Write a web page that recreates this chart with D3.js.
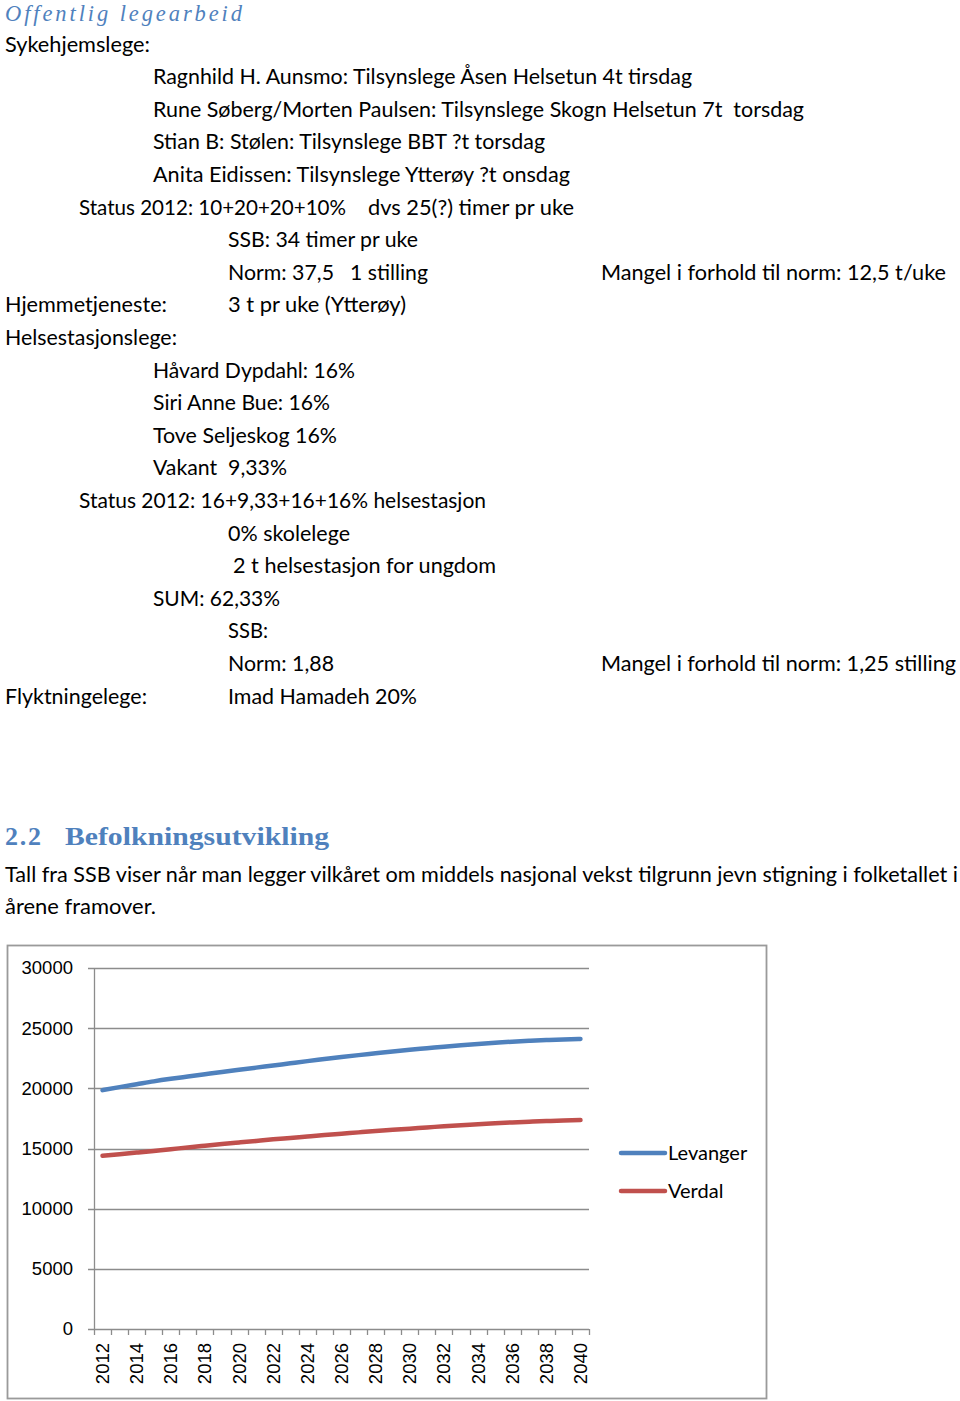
<!DOCTYPE html>
<html>
<head>
<meta charset="utf-8">
<script src="https://cdn.jsdelivr.net/npm/d3@7"></script>
<style>
    body { margin: 0; background: #fff; }
    svg text { white-space: pre; }
</style>
</head>
<body>
<div id="svganchor"></div>
<script>
// Chart data (SSB projection, 2012-2040)
const years = d3.range(2012, 2041);
const levanger = [
    19850, 20100, 20340, 20580, 20790, 20980, 21170, 21360, 21540, 21720,
    21900, 22080, 22260, 22430, 22600, 22760, 22910, 23060, 23200, 23330,
    23460, 23580, 23690, 23790, 23880, 23950, 24010, 24060, 24100
];
const verdal = [
    14390, 14520, 14660, 14800, 14940, 15090, 15230, 15370, 15500, 15630,
    15760, 15880, 16000, 16120, 16230, 16340, 16450, 16550, 16650, 16750,
    16850, 16940, 17020, 17100, 17170, 17230, 17280, 17320, 17360
];
const seriesNames = ['Levanger', 'Verdal'];
const yTicks = [0, 5000, 10000, 15000, 20000, 25000, 30000];
const xTickLabels = years.filter((y) => y % 2 === 0);

// Document text above the chart: [row, x, width, text]
const docLines = [
    [0, 5, 145, 'Sykehjemslege:'],
    [1, 153, 539, 'Ragnhild H. Aunsmo: Tilsynslege Åsen Helsetun 4t tirsdag'],
    [2, 153, 651, 'Rune Søberg/Morten Paulsen: Tilsynslege Skogn Helsetun 7t  torsdag'],
    [3, 153, 392, 'Stian B: Stølen: Tilsynslege BBT ?t torsdag'],
    [4, 153, 417, 'Anita Eidissen: Tilsynslege Ytterøy ?t onsdag'],
    [5, 79, 267, 'Status 2012: 10+20+20+10%'],
    [5, 368, 206, 'dvs 25(?) timer pr uke'],
    [6, 228, 190, 'SSB: 34 timer pr uke'],
    [7, 228, 106, 'Norm: 37,5'],
    [7, 350, 78, '1 stilling'],
    [7, 601, 345, 'Mangel i forhold til norm: 12,5 t/uke'],
    [8, 5, 162, 'Hjemmetjeneste:'],
    [8, 228, 178, '3 t pr uke (Ytterøy)'],
    [9, 5, 172, 'Helsestasjonslege:'],
    [10, 153, 202, 'Håvard Dypdahl: 16%'],
    [11, 153, 177, 'Siri Anne Bue: 16%'],
    [12, 153, 184, 'Tove Seljeskog 16%'],
    [13, 153, 134, 'Vakant  9,33%'],
    [14, 79, 407, 'Status 2012: 16+9,33+16+16% helsestasjon'],
    [15, 228, 122, '0% skolelege'],
    [16, 233, 263, '2 t helsestasjon for ungdom'],
    [17, 153, 127, 'SUM: 62,33%'],
    [18, 228, 40, 'SSB:'],
    [19, 228, 106, 'Norm: 1,88'],
    [19, 601, 355, 'Mangel i forhold til norm: 1,25 stilling'],
    [20, 5, 142, 'Flyktningelege:'],
    [20, 228, 189, 'Imad Hamadeh 20%']
];

const width = 960,
    height = 1401;
const blue = '#4f81bd';
const bodyFont = 'Lato, "Open Sans", sans-serif';
const axisFont = '"Liberation Sans", Arial, sans-serif';

const svg = d3
    .select('#svganchor')
    .append('svg')
    .attr('width', width)
    .attr('height', height)
    .attr('viewBox', `0 0 ${width} ${height}`);

// Heading
svg.append('text')
    .attr('x', 5)
    .attr('y', 20.5)
    .attr('textLength', 237)
    .attr('lengthAdjust', 'spacing')
    .attr('font-family', '"Liberation Serif", serif')
    .attr('font-style', 'italic')
    .attr('font-size', 22.5)
    .attr('fill', blue)
    .text('Offentlig legearbeid');

// Body lines, one row every 32.6px
svg.append('g')
    .selectAll('text')
    .data(docLines)
    .enter()
    .append('text')
    .attr('x', (d) => d[1])
    .attr('y', (d) => 51.5 + d[0] * 32.6)
    .attr('textLength', (d) => d[2])
    .attr('lengthAdjust', 'spacingAndGlyphs')
    .attr('font-family', bodyFont)
    .attr('font-size', 21)
    .attr('fill', '#000')
    .text((d) => d[3]);

// Section 2.2
const h2 = svg.append('g')
    .attr('font-family', '"Liberation Serif", serif')
    .attr('font-weight', 'bold')
    .attr('font-size', 26)
    .attr('fill', blue);
h2.append('text').attr('x', 5).attr('y', 845).attr('textLength', 36).text('2.2');
h2.append('text')
    .attr('x', 65)
    .attr('y', 845)
    .attr('textLength', 264)
    .attr('lengthAdjust', 'spacingAndGlyphs')
    .text('Befolkningsutvikling');

[
    [882, 953, 'Tall fra SSB viser når man legger vilkåret om middels nasjonal vekst tilgrunn jevn stigning i folketallet i'],
    [914, 151, 'årene framover.']
].forEach((p) => {
    svg.append('text')
        .attr('x', 5)
        .attr('y', p[0])
        .attr('textLength', p[1])
        .attr('lengthAdjust', 'spacingAndGlyphs')
        .attr('font-family', bodyFont)
        .attr('font-size', 21)
        .attr('fill', '#000')
        .text(p[2]);
});

// Chart frame
const gridColor = '#8c8c8c';
svg.append('rect')
    .attr('x', 7.5)
    .attr('y', 945.5)
    .attr('width', 759)
    .attr('height', 453)
    .attr('fill', 'none')
    .attr('stroke', '#9a9a9a')
    .attr('stroke-width', 1.8);

const x = d3.scaleBand().domain(years).range([94, 589]);
const y = d3.scaleLinear().domain([0, 30000]).range([1329, 968]);
const cx = (yr) => x(yr) + x.bandwidth() / 2;

const chart = svg.append('g');

// Horizontal gridlines with the small tick on the left
chart.append('g')
    .selectAll('line')
    .data(yTicks)
    .enter()
    .append('line')
    .attr('x1', 88)
    .attr('x2', 589)
    .attr('y1', (d) => Math.round(y(d)) + 0.5)
    .attr('y2', (d) => Math.round(y(d)) + 0.5)
    .attr('stroke', gridColor)
    .attr('stroke-width', 1.3);

// Y axis line
chart.append('line')
    .attr('x1', 94.5)
    .attr('x2', 94.5)
    .attr('y1', y(30000))
    .attr('y2', y(0))
    .attr('stroke', gridColor)
    .attr('stroke-width', 1.3);

chart.append('g')
    .selectAll('text')
    .data(yTicks)
    .enter()
    .append('text')
    .attr('x', 73)
    .attr('y', (d) => y(d))
    .attr('dy', '0.35em')
    .attr('text-anchor', 'end')
    .attr('font-family', axisFont)
    .attr('font-size', 18.5)
    .attr('fill', '#000')
    .text((d) => d);

// X tick marks between categories
const tickPos = years.map((yr) => x(yr)).concat([x.range()[1]]);
chart.append('g')
    .selectAll('line')
    .data(tickPos)
    .enter()
    .append('line')
    .attr('x1', (d) => Math.round(d) + 0.5)
    .attr('x2', (d) => Math.round(d) + 0.5)
    .attr('y1', y(0))
    .attr('y2', y(0) + 6)
    .attr('stroke', gridColor)
    .attr('stroke-width', 1.3);

chart.append('g')
    .selectAll('text')
    .data(xTickLabels)
    .enter()
    .append('text')
    .attr('transform', (d) => `translate(${cx(d)},${y(0) + 14}) rotate(-90)`)
    .attr('dy', '0.35em')
    .attr('text-anchor', 'end')
    .attr('font-family', axisFont)
    .attr('font-size', 18.5)
    .attr('fill', '#000')
    .text((d) => d);

// Series lines
const line = d3
    .line()
    .x((d, i) => cx(years[i]))
    .y((d) => y(d))
    .curve(d3.curveMonotoneX);

const colors = d3.scaleOrdinal().domain(seriesNames).range([blue, '#c0504d']);
const series = [levanger, verdal];

chart.append('g')
    .selectAll('path')
    .data(series)
    .enter()
    .append('path')
    .attr('d', line)
    .attr('fill', 'none')
    .attr('stroke', (d, i) => colors(seriesNames[i]))
    .attr('stroke-width', 4.5)
    .attr('stroke-linecap', 'round');

// Legend
const legend = chart.append('g')
    .selectAll('g')
    .data(seriesNames)
    .enter()
    .append('g')
    .attr('transform', (d, i) => `translate(621,${1153 + i * 38})`);
legend.append('line')
    .attr('x1', 0)
    .attr('x2', 44)
    .attr('stroke', (d) => colors(d))
    .attr('stroke-width', 4.5)
    .attr('stroke-linecap', 'round');
legend.append('text')
    .attr('x', 47)
    .attr('dy', '0.35em')
    .attr('font-family', bodyFont)
    .attr('font-size', 20)
    .attr('fill', '#000')
    .text((d) => d);
</script>
</body>
</html>
